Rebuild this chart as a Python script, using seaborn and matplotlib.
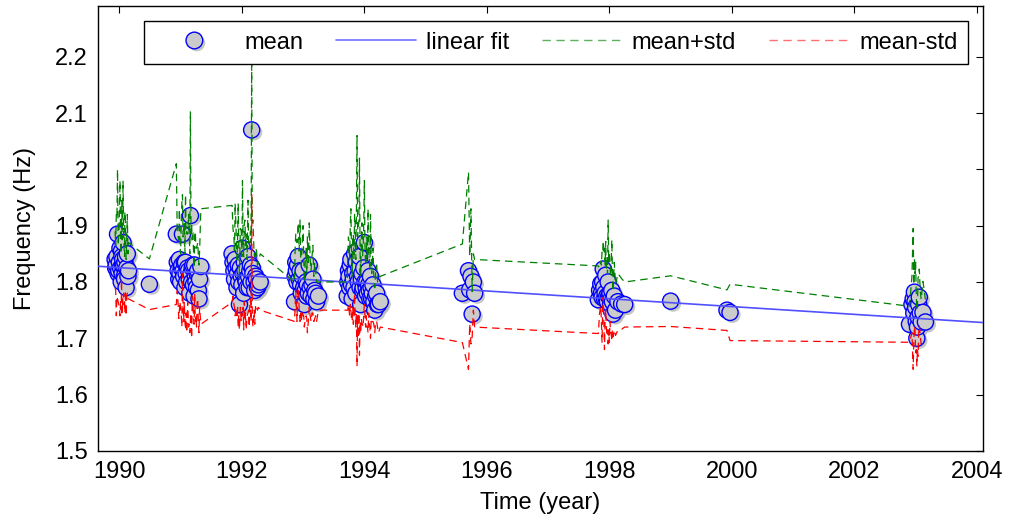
import matplotlib
matplotlib.use("Agg")
import matplotlib.pyplot as plt
import matplotlib.patheffects as pe
from matplotlib.lines import Line2D
import pandas as pd
import seaborn as sns

# ---------------- data ----------------
# each campaign: observation times (year), mean frequency (Hz), std (Hz)
years_1990 = [1989.93, 1989.94, 1989.95, 1989.96, 1989.97, 1989.98, 1989.99, 1990.00,
              1990.01, 1990.02, 1990.03, 1990.035, 1990.04, 1990.045, 1990.05, 1990.055,
              1990.06, 1990.07, 1990.08, 1990.085, 1990.09, 1990.10, 1990.11, 1990.12,
              1990.13, 1990.14, 1990.15, 1990.49]
mean_1990 = [1.840, 1.825, 1.830, 1.845, 1.885, 1.815, 1.820, 1.835,
             1.860, 1.825, 1.800, 1.855, 1.845, 1.815, 1.830, 1.840,
             1.870, 1.830, 1.810, 1.805, 1.835, 1.845, 1.790, 1.825,
             1.850, 1.810, 1.820, 1.796]
std_1990 = [0.050, 0.040, 0.090, 0.070, 0.115, 0.050, 0.060, 0.080,
            0.120, 0.060, 0.050, 0.050, 0.100, 0.060, 0.080, 0.070,
            0.110, 0.050, 0.040, 0.040, 0.090, 0.060, 0.050, 0.050,
            0.070, 0.040, 0.050, 0.045]

years_1991 = [1990.93, 1990.945, 1990.96, 1990.97, 1990.98, 1990.99, 1991.00, 1991.01,
              1991.02, 1991.03, 1991.04, 1991.05, 1991.06, 1991.07, 1991.08, 1991.09,
              1991.10, 1991.115, 1991.13, 1991.14, 1991.15, 1991.16, 1991.17, 1991.18,
              1991.19, 1991.20, 1991.21, 1991.22, 1991.23, 1991.24, 1991.25, 1991.26,
              1991.27, 1991.28, 1991.29, 1991.30, 1991.31, 1991.33]
mean_1991 = [1.885, 1.835, 1.820, 1.805, 1.840, 1.815, 1.800, 1.825,
             1.830, 1.885, 1.820, 1.810, 1.835, 1.790, 1.835, 1.815,
             1.800, 1.825, 1.820, 1.805, 1.780, 1.918, 1.815, 1.800,
             1.825, 1.830, 1.795, 1.775, 1.830, 1.810, 1.800, 1.790,
             1.815, 1.820, 1.785, 1.770, 1.805, 1.8275]
std_1991 = [0.125, 0.050, 0.060, 0.070, 0.090, 0.050, 0.050, 0.080,
            0.110, 0.070, 0.060, 0.080, 0.070, 0.060, 0.120, 0.070,
            0.090, 0.060, 0.100, 0.080, 0.070, 0.185, 0.070, 0.100,
            0.050, 0.060, 0.060, 0.050, 0.050, 0.080, 0.060, 0.070,
            0.050, 0.050, 0.060, 0.060, 0.050, 0.1025]

years_1992 = [1991.84, 1991.855, 1991.87, 1991.88, 1991.89, 1991.905, 1991.92, 1991.93,
              1991.94, 1991.95, 1991.96, 1991.975, 1991.99, 1992.00, 1992.01, 1992.02,
              1992.03, 1992.04, 1992.05, 1992.06, 1992.07, 1992.085, 1992.10, 1992.11,
              1992.12, 1992.13, 1992.14, 1992.15, 1992.16, 1992.17, 1992.18, 1992.20,
              1992.21, 1992.225, 1992.24, 1992.255, 1992.27, 1992.30]
mean_1992 = [1.850, 1.835, 1.820, 1.805, 1.840, 1.825, 1.790, 1.815,
             1.830, 1.800, 1.760, 1.825, 1.810, 1.795, 1.860, 1.815,
             1.780, 1.835, 1.820, 1.805, 1.800, 1.790, 1.845, 1.810,
             1.790, 1.820, 1.830, 1.800, 2.070, 1.825, 1.815, 1.800,
             1.785, 1.810, 1.805, 1.790, 1.795, 1.800]
std_1992 = [0.086, 0.060, 0.060, 0.050, 0.100, 0.070, 0.050, 0.060,
            0.110, 0.060, 0.045, 0.070, 0.080, 0.050, 0.120, 0.060,
            0.065, 0.070, 0.090, 0.060, 0.085, 0.050, 0.100, 0.060,
            0.070, 0.050, 0.060, 0.070, 0.115, 0.080, 0.095, 0.050,
            0.060, 0.050, 0.050, 0.040, 0.040, 0.050]

years_1993 = [1992.86, 1992.87, 1992.88, 1992.89, 1992.90, 1992.91, 1992.92, 1992.935,
              1992.95, 1992.96, 1992.97, 1992.985, 1993.00, 1993.01, 1993.02, 1993.035,
              1993.05, 1993.06, 1993.07, 1993.085, 1993.10, 1993.115, 1993.13, 1993.145,
              1993.16, 1993.175, 1993.19, 1993.205, 1993.22, 1993.25]
mean_1993 = [1.765, 1.810, 1.835, 1.820, 1.800, 1.830, 1.845, 1.805,
             1.820, 1.795, 1.780, 1.810, 1.820, 1.790, 1.760, 1.785,
             1.800, 1.775, 1.795, 1.780, 1.830, 1.790, 1.775, 1.795,
             1.805, 1.770, 1.785, 1.780, 1.765, 1.775]
std_1993 = [0.035, 0.050, 0.050, 0.060, 0.070, 0.050, 0.060, 0.050,
            0.090, 0.050, 0.050, 0.060, 0.080, 0.050, 0.040, 0.050,
            0.060, 0.040, 0.085, 0.050, 0.075, 0.050, 0.045, 0.050,
            0.060, 0.040, 0.050, 0.040, 0.035, 0.025]

years_1994 = [1993.72, 1993.73, 1993.74, 1993.75, 1993.76, 1993.77, 1993.78, 1993.79,
              1993.80, 1993.81, 1993.82, 1993.83, 1993.84, 1993.85, 1993.86, 1993.87,
              1993.88, 1993.89, 1993.90, 1993.91, 1993.92, 1993.93, 1993.94, 1993.95,
              1993.96, 1993.97, 1993.98, 1993.99, 1994.00, 1994.01, 1994.02, 1994.03,
              1994.04, 1994.05, 1994.06, 1994.07, 1994.08, 1994.09, 1994.10, 1994.11,
              1994.12, 1994.13, 1994.14, 1994.155, 1994.17, 1994.185, 1994.20, 1994.215,
              1994.23, 1994.26]
mean_1994 = [1.775, 1.800, 1.820, 1.810, 1.790, 1.830, 1.840, 1.795,
             1.770, 1.815, 1.805, 1.790, 1.850, 1.820, 1.780, 1.835,
             1.855, 1.810, 1.800, 1.825, 1.845, 1.790, 1.760, 1.805,
             1.815, 1.785, 1.790, 1.825, 1.870, 1.800, 1.775, 1.790,
             1.800, 1.780, 1.820, 1.795, 1.785, 1.770, 1.810, 1.790,
             1.770, 1.780, 1.795, 1.765, 1.750, 1.775, 1.780, 1.760,
             1.760, 1.765]
std_1994 = [0.025, 0.050, 0.060, 0.060, 0.050, 0.070, 0.090, 0.060,
            0.040, 0.060, 0.080, 0.050, 0.070, 0.080, 0.060, 0.090,
            0.205, 0.070, 0.100, 0.080, 0.175, 0.060, 0.050, 0.070,
            0.090, 0.060, 0.070, 0.080, 0.110, 0.060, 0.055, 0.050,
            0.080, 0.060, 0.110, 0.050, 0.060, 0.050, 0.110, 0.060,
            0.045, 0.050, 0.065, 0.040, 0.040, 0.045, 0.050, 0.040,
            0.050, 0.045]

years_1996 = [1995.60, 1995.70, 1995.72, 1995.74, 1995.76, 1995.78, 1995.80]
mean_1996 = [1.780, 1.820, 1.786, 1.810, 1.743, 1.800, 1.780]
std_1996 = [0.0875, 0.175, 0.060, 0.120, 0.040, 0.050, 0.060]

years_1998 = [1997.82, 1997.84, 1997.86, 1997.87, 1997.88, 1997.89, 1997.90, 1997.91,
              1997.92, 1997.93, 1997.94, 1997.95, 1997.96, 1997.97, 1997.98, 1997.99,
              1998.00, 1998.01, 1998.02, 1998.03, 1998.04, 1998.05, 1998.06, 1998.08,
              1998.10, 1998.14, 1998.20, 1998.25]
mean_1998 = [1.7685, 1.785, 1.797, 1.780, 1.773, 1.800, 1.823, 1.790,
             1.770, 1.780, 1.812, 1.770, 1.775, 1.765, 1.800, 1.775,
             1.773, 1.780, 1.760, 1.770, 1.785, 1.765, 1.743, 1.775,
             1.750, 1.765, 1.761, 1.760]
std_1998 = [0.060, 0.040, 0.040, 0.050, 0.080, 0.050, 0.050, 0.060,
            0.090, 0.050, 0.060, 0.050, 0.070, 0.050, 0.110, 0.060,
            0.080, 0.050, 0.050, 0.060, 0.090, 0.050, 0.040, 0.060,
            0.045, 0.050, 0.045, 0.040]

years_2000 = [1999.00, 1999.92, 1999.97]
mean_2000 = [1.766, 1.750, 1.746]
std_2000 = [0.045, 0.036, 0.050]

years_2003 = [2002.90, 2002.94, 2002.96, 2002.97, 2002.98, 2002.99, 2003.00, 2003.01,
              2003.02, 2003.03, 2003.04, 2003.05, 2003.06, 2003.075, 2003.09, 2003.12,
              2003.16]
mean_2003 = [1.725, 1.760, 1.770, 1.745, 1.782, 1.765, 1.755, 1.730,
             1.700, 1.720, 1.738, 1.760, 1.773, 1.745, 1.729, 1.746,
             1.729]
std_2003 = [0.032, 0.050, 0.125, 0.050, 0.060, 0.050, 0.080, 0.050,
            0.050, 0.040, 0.070, 0.050, 0.050, 0.040, 0.040, 0.055,
            0.040]

fit_years = [1989.644, 2004.10]
fit_freq = [1.828, 1.728]

x_ticks = [1990, 1992, 1994, 1996, 1998, 2000, 2002, 2004]
y_ticks = [1.5, 1.6, 1.7, 1.8, 1.9, 2.0, 2.1, 2.2]
y_tick_labels = ["1.5", "1.6", "1.7", "1.8", "1.9", "2", "2.1", "2.2"]
legend_labels = ["mean", "linear fit", "mean+std", "mean-std"]

# ---------------- frame ----------------
years = (years_1990 + years_1991 + years_1992 + years_1993 + years_1994 +
         years_1996 + years_1998 + years_2000 + years_2003)
freq_mean = (mean_1990 + mean_1991 + mean_1992 + mean_1993 + mean_1994 +
             mean_1996 + mean_1998 + mean_2000 + mean_2003)
freq_std = (std_1990 + std_1991 + std_1992 + std_1993 + std_1994 +
            std_1996 + std_1998 + std_2000 + std_2003)

df = pd.DataFrame({"year": years, "mean": freq_mean, "std": freq_std})
df["upper"] = df["mean"] + df["std"]
df["lower"] = df["mean"] - df["std"]
fit_df = pd.DataFrame({"year": fit_years, "fit": fit_freq})

sns.set_theme(style="white")
plt.rcParams["font.family"] = ["Liberation Sans", "DejaVu Sans"]
plt.rcParams["text.color"] = "black"
plt.rcParams["axes.labelcolor"] = "black"
plt.rcParams["xtick.color"] = "black"
plt.rcParams["ytick.color"] = "black"

FS = 17
BLUE_FIT = "#5050ff"
GREEN = "#008000"
RED = "#ff0000"
DASH = (6, 4)

fig = plt.figure(figsize=(10.11, 5.21), dpi=100)
ax = fig.add_axes([0.0965, 0.1344, 0.8758, 0.8541])

shadow = [pe.SimplePatchShadow(offset=(1.8, -1.8), shadow_rgbFace=(0.72, 0.72, 0.72), alpha=0.8),
          pe.Normal()]

sns.scatterplot(data=df, x="year", y="mean", ax=ax, s=135, color="#cbcbcb",
                edgecolor="blue", linewidth=1.0, zorder=2, legend=False)
ax.collections[-1].set_path_effects(shadow)

sns.lineplot(data=fit_df, x="year", y="fit", ax=ax, estimator=None, sort=False,
             color=BLUE_FIT, linewidth=1.2, zorder=3)
sns.lineplot(data=df, x="year", y="upper", ax=ax, estimator=None, sort=False,
             color=GREEN, linewidth=0.9, zorder=4)
ax.lines[-1].set_dashes(DASH)
sns.lineplot(data=df, x="year", y="lower", ax=ax, estimator=None, sort=False,
             color=RED, linewidth=0.9, zorder=4)
ax.lines[-1].set_dashes(DASH)

ax.set_xlim(1989.644, 2004.10)
ax.set_ylim(1.5, 2.29)
ax.set_xticks(x_ticks)
ax.set_xticklabels([str(v) for v in x_ticks])
ax.set_yticks(y_ticks)
ax.set_yticklabels(y_tick_labels)
ax.tick_params(direction="in", length=5, width=0.8, top=True, right=True,
               labelsize=FS, pad=7)
for sp in ax.spines.values():
    sp.set_color("black")
    sp.set_linewidth(1.0)
    sp.set_visible(True)

ax.set_xlabel("Time (year)", fontsize=FS, labelpad=7)
ax.set_ylabel("Frequency (Hz)", fontsize=FS, labelpad=14)

handles = [
    Line2D([], [], marker="o", linestyle="none", markersize=12,
           markerfacecolor="#cbcbcb", markeredgecolor="blue", markeredgewidth=1.0,
           path_effects=shadow),
    Line2D([], [], color="#7070ff", linewidth=1.2),
    Line2D([], [], color="#60b060", linewidth=1.0, dashes=DASH),
    Line2D([], [], color="#ff7070", linewidth=1.0, dashes=DASH),
]
leg = ax.legend(handles, legend_labels, ncol=4, loc="upper left",
                bbox_to_anchor=(0.052, 0.966, 0.931, 0.0), mode="expand",
                fontsize=FS, frameon=True, fancybox=False, framealpha=1,
                edgecolor="black", handlelength=3.4, handletextpad=0.4,
                borderpad=0.45, columnspacing=1.0, borderaxespad=0)
leg.get_frame().set_linewidth(1.0)

fig.savefig("out.png", dpi=100)
